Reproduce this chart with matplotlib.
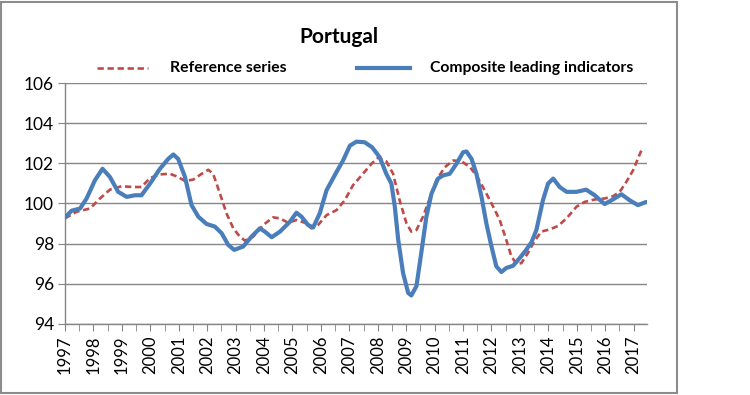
import matplotlib
matplotlib.use("Agg")
import matplotlib.pyplot as plt
from matplotlib.lines import Line2D
from matplotlib.patches import Rectangle

plt.rcParams['font.family'] = ['Lato', 'DejaVu Sans']

# Composite leading indicators (blue, solid)
cli_t = [1997.0, 1997.23, 1997.53, 1997.76, 1998.05, 1998.32, 1998.58, 1998.87, 1999.17, 1999.46,
         1999.69, 1999.99, 2000.34, 2000.63, 2000.81, 2000.98, 2001.22, 2001.45, 2001.69, 2001.98,
         2002.27, 2002.51, 2002.74, 2002.95, 2003.27, 2003.56, 2003.85, 2004.03, 2004.27, 2004.56,
         2004.91, 2005.14, 2005.32, 2005.55, 2005.73, 2005.96, 2006.2, 2006.55, 2006.78, 2007.02,
         2007.25, 2007.54, 2007.8, 2008.07, 2008.3, 2008.48, 2008.6, 2008.72, 2008.89, 2009.07,
         2009.18, 2009.36, 2009.53, 2009.71, 2009.89, 2010.12, 2010.3, 2010.53, 2010.77, 2011.0,
         2011.12, 2011.3, 2011.47, 2011.65, 2011.82, 2012.0, 2012.17, 2012.35, 2012.52, 2012.76,
         2012.99, 2013.22, 2013.4, 2013.58, 2013.81, 2013.99, 2014.17, 2014.4, 2014.64, 2014.99,
         2015.33, 2015.63, 2015.98, 2016.27, 2016.57, 2016.86, 2017.15, 2017.45]
cli_v = [99.3, 99.64, 99.75, 100.25, 101.15, 101.73, 101.32, 100.58, 100.33, 100.41,
         100.41, 100.99, 101.73, 102.22, 102.44, 102.22, 101.32, 99.92, 99.34, 98.98,
         98.85, 98.52, 97.94, 97.69, 97.86, 98.35, 98.76, 98.6, 98.32, 98.6,
         99.09, 99.54, 99.34, 98.93, 98.81, 99.51, 100.66, 101.57, 102.14, 102.88,
         103.08, 103.05, 102.8, 102.3, 101.48, 100.99, 99.84, 98.19, 96.54, 95.55,
         95.42, 95.88, 97.53, 99.34, 100.49, 101.24, 101.4, 101.48, 101.98, 102.55,
         102.59, 102.22, 101.48, 100.33, 99.01, 97.86, 96.87, 96.59, 96.79, 96.9,
         97.28, 97.69, 98.05, 98.68, 100.16, 100.99, 101.24, 100.82, 100.58, 100.58,
         100.69, 100.41, 99.97, 100.2, 100.46, 100.16, 99.92, 100.08]

# Reference series (red, dashed)
ref_t = [1997.0, 1997.41, 1997.88, 1998.23, 1998.58, 1998.99, 1999.4, 1999.69, 1999.99, 2000.34,
         2000.69, 2000.98, 2001.22, 2001.51, 2001.81, 2002.04, 2002.21, 2002.45, 2002.68, 2002.92,
         2003.15, 2003.33, 2003.62, 2003.97, 2004.32, 2004.56, 2004.85, 2005.14, 2005.44, 2005.67,
         2005.9, 2006.2, 2006.55, 2006.84, 2007.13, 2007.48, 2007.78, 2008.01, 2008.3, 2008.54,
         2008.77, 2009.01, 2009.18, 2009.36, 2009.59, 2009.83, 2010.06, 2010.36, 2010.65, 2010.94,
         2011.24, 2011.47, 2011.76, 2012.06, 2012.29, 2012.52, 2012.7, 2012.88, 2013.05, 2013.28,
         2013.5, 2013.75, 2014.05, 2014.34, 2014.64, 2014.99, 2015.28, 2015.63, 2015.98, 2016.27,
         2016.51, 2016.74, 2016.98, 2017.27]
ref_v = [99.26, 99.59, 99.75, 100.25, 100.69, 100.86, 100.82, 100.82, 101.27, 101.45,
         101.48, 101.32, 101.12, 101.19, 101.48, 101.68, 101.48, 100.49, 99.51, 98.76,
         98.35, 98.15, 98.35, 98.93, 99.31, 99.26, 99.04, 99.18, 99.04, 98.76,
         98.93, 99.42, 99.67, 100.16, 100.91, 101.48, 101.98, 102.28, 102.1, 101.48,
         100.16, 99.01, 98.6, 98.68, 99.34, 100.25, 101.15, 101.81, 102.14, 102.11,
         101.81, 101.4, 100.66, 99.84, 99.18, 98.19, 97.36, 97.0, 97.03, 97.53,
         98.1, 98.6, 98.71, 98.88, 99.26, 99.84, 100.08, 100.2, 100.25, 100.36,
         100.58, 101.07, 101.65, 102.64]

years = list(range(1997, 2018))
yticks = [94, 96, 98, 100, 102, 104, 106]

title = "Portugal"
ref_label = "Reference series"
cli_label = "Composite leading indicators"

BLUE = "#4a7ebb"
RED = "#be4b48"
GRID = "#868686"
DASH = (0, (2.4, 1.4))

W, H = 750, 395
fig = plt.figure(figsize=(7.5, 3.95), dpi=100)
ax = fig.add_axes([65 / W, 1 - 324 / H, (647 - 65) / W, (324 - 83) / H])

ax.plot(ref_t, ref_v, color=RED, lw=1.9, ls=DASH, zorder=3)
ax.plot(cli_t, cli_v, color=BLUE, lw=3.0, solid_capstyle='round', solid_joinstyle='round', zorder=4)

ax.set_xlim(1997, 2017.47)
ax.set_ylim(94, 106)
ax.set_yticks(yticks)
ax.set_yticklabels([str(v) for v in yticks], fontsize=12.5)
ax.set_xticks(years)
ax.set_xticklabels([str(y) for y in years], rotation=90, fontsize=12)
ax.set_xticks([y + 0.5 for y in years[:-1]], minor=True)
ax.tick_params(axis='x', which='both', direction='out', length=5, color=GRID, pad=3)
ax.tick_params(axis='y', which='major', direction='out', length=5, color=GRID, pad=3)
ax.grid(axis='y', color=GRID, lw=1.0)
ax.set_axisbelow(True)
for s in ['top', 'right']:
    ax.spines[s].set_visible(False)
for s in ['left', 'bottom']:
    ax.spines[s].set_color(GRID)
    ax.spines[s].set_linewidth(1.0)

# Title and legend
fig.text(339 / W, 1 - 37 / H, title, ha='center', va='center', fontsize=15, fontweight='bold')
fig.add_artist(Line2D([97 / W, 148 / W], [1 - 68 / H] * 2, color=RED, lw=1.9, ls=DASH))
fig.text(170 / W, 1 - 68 / H, ref_label, ha='left', va='center', fontsize=11.3, fontweight='bold')
fig.add_artist(Line2D([357 / W, 410 / W], [1 - 68 / H] * 2, color=BLUE, lw=3.0))
fig.text(430 / W, 1 - 68 / H, cli_label, ha='left', va='center', fontsize=11.3, fontweight='bold')

# Outer chart border
fig.add_artist(Rectangle((1 / W, 1 - 393 / H), 676 / W, 391 / H, transform=fig.transFigure,
                         fill=False, edgecolor="#8c8c8c", lw=1.5))

fig.savefig("out.png", dpi=100, facecolor="white")
